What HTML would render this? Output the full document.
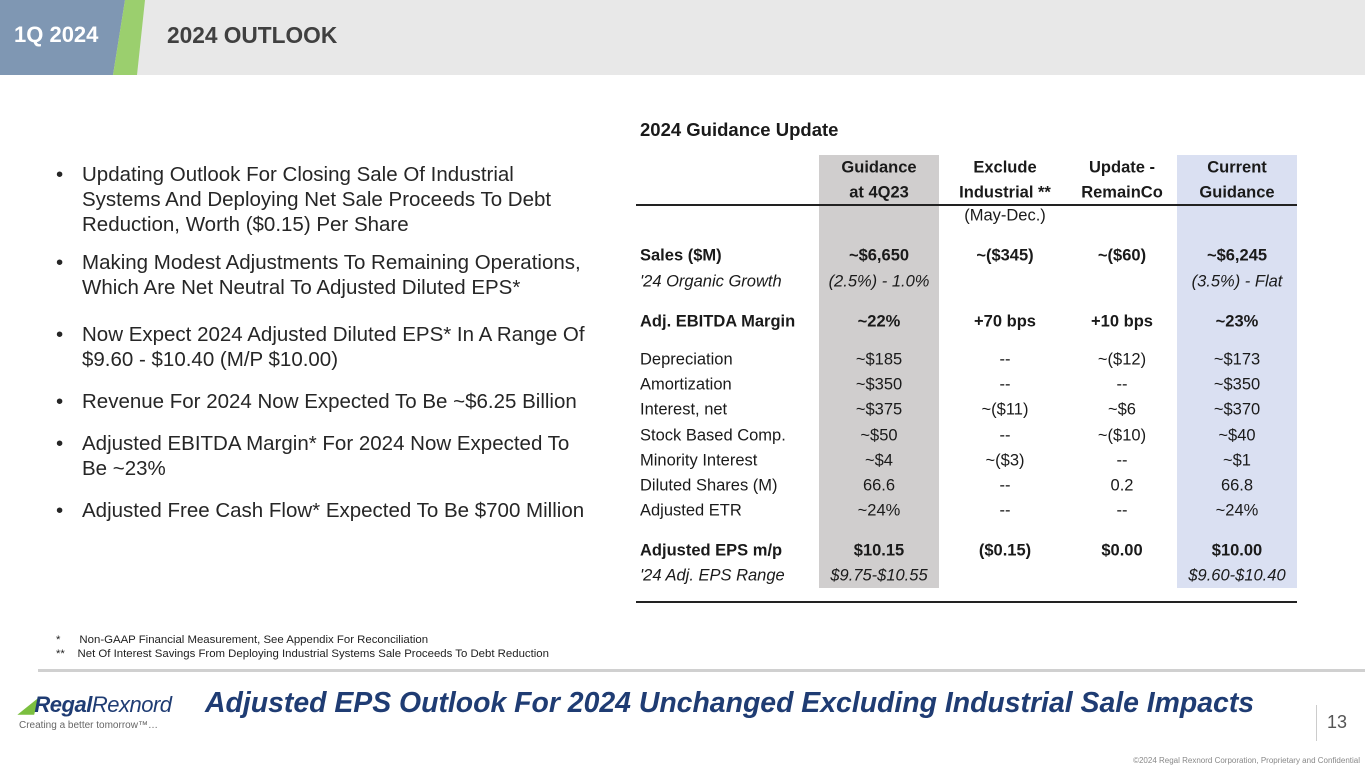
<!DOCTYPE html>
<html><head><meta charset="utf-8"><style>
body{margin:0;width:1365px;height:768px;position:relative;background:#fff;font-family:"Liberation Sans",sans-serif;overflow:hidden}
.a{position:absolute;white-space:nowrap}
.b{font-size:20.5px;color:#262626;line-height:25px}
.t{font-family:"Liberation Sans Narrow","Liberation Sans",sans-serif;font-size:16.5px;color:#1a1a1a;transform:translate(-50%,-50%)}
.bd{font-weight:bold}.it{font-style:italic}
</style></head><body>
<div class="a" style="left:0;top:0;width:1365px;height:75px;background:#e8e8e8"></div>
<svg class="a" style="left:0;top:0" width="150" height="75"><polygon points="0,0 125,0 113,75 0,75" fill="#7f97b3"/><polygon points="125,0 145,0 137,75 113,75" fill="#9bcf6e"/></svg>
<div class="a bd" style="left:14px;top:22px;font-size:22px;color:#fff">1Q 2024</div>
<div class="a bd" style="left:167px;top:22px;font-size:22.7px;color:#404040">2024 OUTLOOK</div>

<div>
<div class="a b" style="left:56px;top:162px">•</div><div class="a b" style="left:82px;top:162px">Updating Outlook For Closing Sale Of Industrial<br>Systems And Deploying Net Sale Proceeds To Debt<br>Reduction, Worth ($0.15) Per Share</div>
<div class="a b" style="left:56px;top:250px">•</div><div class="a b" style="left:82px;top:250px">Making Modest Adjustments To Remaining Operations,<br>Which Are Net Neutral To Adjusted Diluted EPS*</div>
<div class="a b" style="left:56px;top:322px">•</div><div class="a b" style="left:82px;top:322px">Now Expect 2024 Adjusted Diluted EPS* In A Range Of<br>$9.60 - $10.40 (M/P $10.00)</div>
<div class="a b" style="left:56px;top:389px">•</div><div class="a b" style="left:82px;top:389px">Revenue For 2024 Now Expected To Be ~$6.25 Billion</div>
<div class="a b" style="left:56px;top:431px">•</div><div class="a b" style="left:82px;top:431px">Adjusted EBITDA Margin* For 2024 Now Expected To<br>Be ~23%</div>
<div class="a b" style="left:56px;top:498px">•</div><div class="a b" style="left:82px;top:498px">Adjusted Free Cash Flow* Expected To Be $700 Million</div>
</div>

<div class="a bd" style="left:640px;top:119px;font-size:18.5px;color:#1a1a1a">2024 Guidance Update</div>
<div class="a" style="left:819px;top:155px;width:120px;height:433px;background:#d0cece"></div>
<div class="a" style="left:1177px;top:155px;width:120px;height:433px;background:#dae0f2"></div>
<div class="a" style="left:636px;top:204px;width:661px;height:1.5px;background:#222"></div>
<div class="a" style="left:636px;top:601px;width:661px;height:1.5px;background:#222"></div>
<div id="tbl"></div>

<div class="a" style="left:56px;top:634px;font-size:11.4px;color:#222">*&nbsp;&nbsp;&nbsp;&nbsp;&nbsp;&nbsp;Non-GAAP Financial Measurement, See Appendix For Reconciliation</div>
<div class="a" style="left:56px;top:648px;font-size:11.4px;color:#222">**&nbsp;&nbsp;&nbsp;&nbsp;Net Of Interest Savings From Deploying Industrial Systems Sale Proceeds To Debt Reduction</div>
<div class="a" style="left:38px;top:669px;width:1327px;height:3px;background:#d0d0d0"></div>
<div class="a" style="left:18px;top:692px;font-size:22px;color:#1f3c73;font-style:italic;letter-spacing:-0.5px"><span style="color:#7bbf3f">◢</span><b>Regal</b>Rexnord</div>
<div class="a" style="left:19px;top:720px;font-size:10px;color:#666">Creating a better tomorrow™…</div>
<div class="a bd it" style="left:205px;top:687px;font-size:28.4px;color:#1f3c73">Adjusted EPS Outlook For 2024 Unchanged Excluding Industrial Sale Impacts</div>
<div class="a" style="left:1316px;top:705px;width:1px;height:36px;background:#ccc"></div>
<div class="a" style="left:1327px;top:712px;font-size:18px;color:#555">13</div>
<div class="a" style="right:5px;top:756px;font-size:8px;color:#888">©2024 Regal Rexnord Corporation, Proprietary and Confidential</div>

<script>
const colX=[879,1005,1122,1237];
const rowY=[216,256,282,322,360,385,410,436,461,486,511,551,576];
const labels=["","Sales ($M)","'24 Organic Growth","Adj. EBITDA Margin","Depreciation","Amortization","Interest, net","Stock Based Comp.","Minority Interest","Diluted Shares (M)","Adjusted ETR","Adjusted EPS m/p","'24 Adj. EPS Range"];
const styles=["","bd","it","bd","","","","","","","","bd","it"];
const guidance4Q23=["","~$6,650","(2.5%) - 1.0%","~22%","~$185","~$350","~$375","~$50","~$4","66.6","~24%","$10.15","$9.75-$10.55"];
const excludeIndustrial=["(May-Dec.)","~($345)","","+70 bps","--","--","~($11)","--","~($3)","--","--","($0.15)",""];
const updateRemainCo=["","~($60)","","+10 bps","~($12)","--","~$6","~($10)","--","0.2","--","$0.00",""];
const currentGuidance=["","~$6,245","(3.5%) - Flat","~23%","~$173","~$350","~$370","~$40","~$1","66.8","~24%","$10.00","$9.60-$10.40"];
const headers=[["Guidance","at 4Q23"],["Exclude","Industrial **"],["Update -","RemainCo"],["Current","Guidance"]];
const tbl=document.getElementById('tbl');
function add(txt,x,y,cls,name){const d=document.createElement('div');d.className='a '+cls;d.style.left=x+'px';d.style.top=y+'px';d.textContent=txt;


tbl.appendChild(d);return d;}
headers.forEach((h,i)=>{add(h[0],colX[i],168,'t bd','column-header');add(h[1],colX[i],193,'t bd','column-header');});
const cols=[guidance4Q23,excludeIndustrial,updateRemainCo,currentGuidance];
rowY.forEach((y,r)=>{
 if(labels[r]){const d=add(labels[r],640,y,'t '+styles[r],'row-label');d.style.transform='translateY(-50%)';}
 cols.forEach((c,ci)=>{if(c[r])add(c[r],colX[ci],y,'t '+(r==0?'':styles[r]),'table-cell');});
});
</script>
</body></html>
